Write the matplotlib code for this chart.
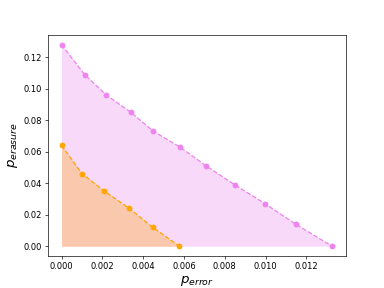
import matplotlib
matplotlib.use("Agg")
import matplotlib.pyplot as plt

pink_x = [0.0, 0.00113, 0.0022, 0.0034, 0.0045, 0.0058, 0.00709, 0.00849, 0.00998, 0.01148, 0.01326]
pink_y = [0.128, 0.109, 0.096, 0.085, 0.073, 0.063, 0.051, 0.039, 0.027, 0.014, 0.0]
orange_x = [0.0, 0.00101, 0.0021, 0.00332, 0.00447, 0.00578]
orange_y = [0.064, 0.046, 0.035, 0.024, 0.012, 0.0]

fig = plt.figure(figsize=(6.4, 4.8), dpi=60)
ax = fig.add_subplot(111)
ax.plot(pink_x, pink_y, '--o', color='violet')
ax.fill_between(pink_x, pink_y, color='violet', alpha=0.3, linewidth=0)
ax.plot(orange_x, orange_y, '--o', color='orange')
ax.fill_between(orange_x, orange_y, color='orange', alpha=0.3, linewidth=0)
ax.set_xlabel('$p_{error}$', fontsize=16)
ax.set_ylabel('$p_{erasure}$', fontsize=16)
fig.savefig('out.png', dpi=60)
